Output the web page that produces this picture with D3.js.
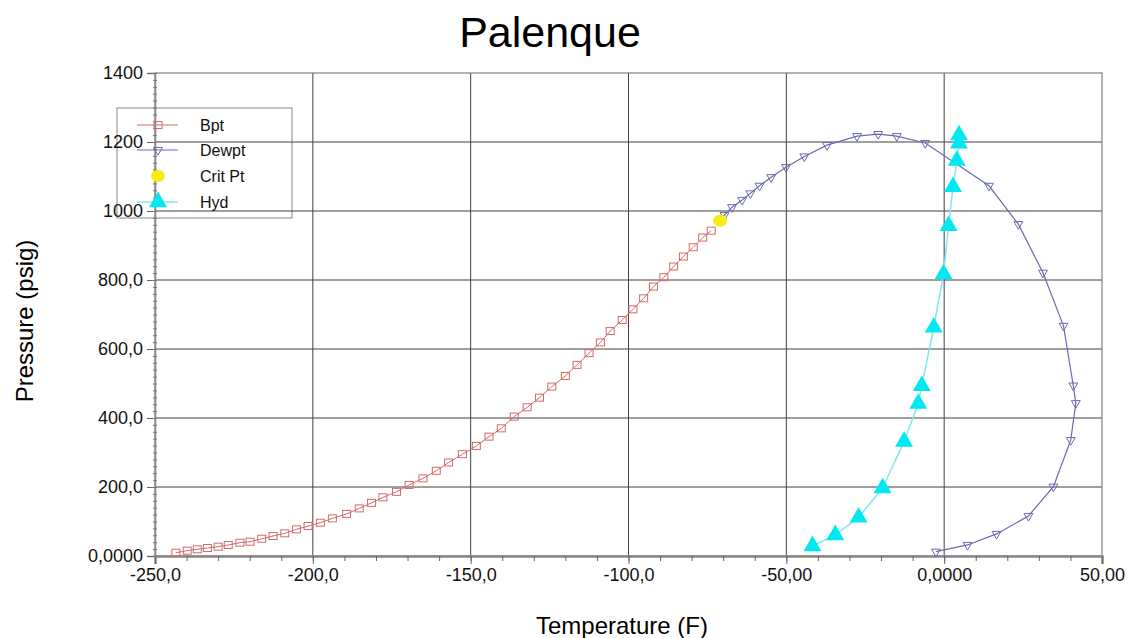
<!DOCTYPE html>
<html>
<head>
<meta charset="utf-8">
<script src="https://cdn.jsdelivr.net/npm/d3@7"></script>
<style>
  html, body { margin: 0; padding: 0; background: #fff; }
  svg { display: block; font-family: "Liberation Sans", Arial, sans-serif; }
</style>
</head>
<body>
<svg id="chart" width="1128" height="638"></svg>
<script>
// ---- data ----
const bptT = [-243.4,-239.8,-236.6,-233.4,-230.0,-226.8,-223.1,-219.9,-216.2,-212.6,-208.9,-205.2,-201.5,-197.6,-193.8,-189.3,-185.3,-181.4,-177.8,-173.5,-169.5,-165.1,-160.9,-157.0,-152.6,-148.2,-144.2,-140.3,-136.2,-132.1,-128.2,-124.3,-120.0,-116.3,-112.5,-108.9,-105.8,-102.0,-98.6,-95.2,-92.1,-88.8,-85.7,-82.6,-79.5,-76.5,-73.8];
const bptP = [9.6,15.4,19.4,23.2,27,31.9,38.6,41.4,50,58,65.7,77.3,86.9,96.5,109,122,138,154,170,186,206,225,247,271,295,319,346,370,404,431,459,491,522,554,588,619,652,684,715,747,781,808,839,868,895,923,943];

const dewT = [-71.0,-69.6,-67.2,-64.0,-61.4,-58.5,-54.8,-50.1,-44.3,-37.1,-27.6,-20.9,-15.0,-6.0,14.2,23.5,31.3,37.8,40.9,41.7,40.1,34.6,26.7,16.6,7.4,-2.6];
const dewP = [972,988,1011,1032,1051,1073,1098,1127,1158,1191,1217,1223,1217,1197,1073,962,821,667,494,443,336,201,116,64,32,12.5];
const dewMarked = [false,true,true,true,true,true,true,true,true,true,true,true,true,true,true,true,true,true,true,true,true,true,true,true,true,true];

const critT = [-71.0];
const critP = [972];

const hydT = [-41.7,-34.5,-27.1,-19.5,-12.7,-8.2,-7.1,-3.3,-0.2,1.4,2.8,4.0,4.7,4.7];
const hydP = [29,61,112,197,332,442,493,663,817,957,1070,1146,1196,1220];

const xTicks = [-250,-200,-150,-100,-50,0,50];
const xTickLabels = ["-250,0","-200,0","-150,0","-100,0","-50,00","0,0000","50,00"];
const yTicks = [0,200,400,600,800,1000,1200,1400];
const yTickLabels = ["0,0000","200,0","400,0","600,0","800,0","1000","1200","1400"];

const seriesNames = ["Bpt","Dewpt","Crit Pt","Hyd"];

// ---- setup ----
const svg = d3.select("#chart");
const L = 155, R = 1102, T = 73, B = 556;
const x = d3.scaleLinear().domain([-250, 50]).range([L, R]);
const y = d3.scaleLinear().domain([0, 1400]).range([B, T]);

const cBpt = "#d46a6a", cDew = "#6a6ab4", cCrit = "#f5ee10", cHyd = "#00e8f0", cHydLine = "#80e8ec";

// ---- legend (transparent, drawn beneath grid/axes) ----
const lg = svg.append("g");
lg.append("rect").attr("x", 117).attr("y", 108).attr("width", 175).attr("height", 110)
  .attr("fill", "none").attr("stroke", "#888").attr("stroke-width", 1);

// grid
const grid = svg.append("g");
grid.selectAll(".gx").data(xTicks.slice(1, -1)).join("line")
  .attr("x1", d => x(d)).attr("x2", d => x(d)).attr("y1", T).attr("y2", B)
  .attr("stroke", "#404040").attr("stroke-width", 1);
grid.selectAll(".gy").data(yTicks.slice(1, -1)).join("line")
  .attr("x1", L).attr("x2", R).attr("y1", d => y(d)).attr("y2", d => y(d))
  .attr("stroke", "#404040").attr("stroke-width", 1);
// frame
svg.append("rect").attr("x", L).attr("y", T).attr("width", R - L).attr("height", B - T)
  .attr("fill", "none").attr("stroke", "#808080").attr("stroke-width", 1.2);

// axes
const xAxis = d3.axisBottom(x).tickValues(xTicks).tickSize(8).tickPadding(4)
  .tickFormat((d, i) => xTickLabels[i]);
const gx = svg.append("g").attr("transform", `translate(0,${B})`).call(xAxis);
gx.select(".domain").attr("stroke", "#888").attr("stroke-width", 2.5);
gx.selectAll(".tick line").attr("stroke", "#666");
gx.selectAll("text").attr("font-size", 18).attr("fill", "#111")
  .attr("font-family", "Liberation Sans, Arial, sans-serif");
const xMinor = d3.axisBottom(x).tickValues(d3.range(-250, 51, 10)).tickSize(5).tickFormat("");
const gxm = svg.append("g").attr("transform", `translate(0,${B})`).call(xMinor);
gxm.select(".domain").remove();
gxm.selectAll(".tick line").attr("stroke", "#666");

const yAxis = d3.axisLeft(y).tickValues(yTicks).tickSize(8).tickPadding(4)
  .tickFormat((d, i) => yTickLabels[i]);
const gy = svg.append("g").attr("transform", `translate(${L},0)`).call(yAxis);
gy.select(".domain").attr("stroke", "#888").attr("stroke-width", 1.5);
gy.selectAll(".tick line").attr("stroke", "#666");
gy.selectAll("text").attr("font-size", 18).attr("fill", "#111")
  .attr("font-family", "Liberation Sans, Arial, sans-serif");
const yMinor = d3.axisLeft(y).tickValues(d3.range(0, 1401, 20)).tickSize(4).tickFormat("");
const gym = svg.append("g").attr("transform", `translate(${L + 2},0)`).call(yMinor);
gym.select(".domain").remove();
gym.selectAll(".tick line").attr("stroke", "#777");

// ---- series ----
const line = d3.line().x(d => x(d[0])).y(d => y(d[1]));
const bptData = bptT.map((t, i) => [t, bptP[i]]);
const dewData = dewT.map((t, i) => [t, dewP[i]]);
const hydData = hydT.map((t, i) => [t, hydP[i]]);

// Bpt
svg.append("path").datum(bptData).attr("d", line).attr("fill", "none").attr("stroke", cBpt).attr("stroke-width", 1);
svg.append("g").selectAll("rect").data(bptData).join("rect")
  .attr("x", d => x(d[0]) - 4).attr("y", d => y(d[1]) - 3.5).attr("width", 8).attr("height", 7)
  .attr("fill", "none").attr("stroke", cBpt).attr("stroke-width", 1);

// Dewpt
svg.append("path").datum(dewData).attr("d", line).attr("fill", "none").attr("stroke", cDew).attr("stroke-width", 1.2);
const downTri = d3.symbol().type(d3.symbolTriangle).size(34);
svg.append("g").selectAll("path").data(dewData.filter((d, i) => dewMarked[i])).join("path")
  .attr("d", downTri)
  .attr("transform", d => `translate(${x(d[0])},${y(d[1])}) rotate(180)`)
  .attr("fill", "none").attr("stroke", cDew).attr("stroke-width", 1);

// Hyd
svg.append("path").datum(hydData).attr("d", line).attr("fill", "none").attr("stroke", cHydLine).attr("stroke-width", 1.5);
const upTri = d3.symbol().type(d3.symbolTriangle).size(140);
svg.append("g").selectAll("path").data(hydData).join("path")
  .attr("d", upTri)
  .attr("transform", d => `translate(${x(d[0])},${y(d[1])})`)
  .attr("fill", cHyd);

// Crit pt
svg.append("g").selectAll("ellipse").data(critT.map((t, i) => [t, critP[i]])).join("ellipse")
  .attr("cx", d => x(d[0])).attr("cy", d => y(d[1])).attr("rx", 7).attr("ry", 6)
  .attr("fill", cCrit);

// ---- legend entries ----
const lge = svg.append("g");
const ly = [125, 150, 176, 202];
seriesNames.forEach((name, i) => {
  const yy = ly[i], mx = 158;
  if (i === 0) {
    lge.append("line").attr("x1", 137).attr("x2", 178).attr("y1", yy).attr("y2", yy).attr("stroke", cBpt);
    lge.append("rect").attr("x", mx - 4).attr("y", yy - 3.5).attr("width", 8).attr("height", 7).attr("fill", "none").attr("stroke", cBpt);
  } else if (i === 1) {
    lge.append("line").attr("x1", 137).attr("x2", 178).attr("y1", yy).attr("y2", yy).attr("stroke", cDew);
    lge.append("path").attr("d", downTri).attr("transform", `translate(${mx},${yy}) rotate(180)`).attr("fill", "none").attr("stroke", cDew);
  } else if (i === 2) {
    lge.append("ellipse").attr("cx", mx).attr("cy", yy).attr("rx", 7).attr("ry", 6).attr("fill", cCrit);
  } else {
    lge.append("line").attr("x1", 137).attr("x2", 178).attr("y1", yy).attr("y2", yy).attr("stroke", cHydLine).attr("stroke-width", 1.5);
    lge.append("path").attr("d", upTri).attr("transform", `translate(${mx},${yy})`).attr("fill", cHyd);
  }
  lge.append("text").attr("x", 200).attr("y", yy).attr("dy", "0.35em")
    .attr("font-size", 16).attr("fill", "#111").text(name);
});

// ---- titles ----
svg.append("text").attr("x", 550).attr("y", 47).attr("text-anchor", "middle")
  .attr("font-size", 43).attr("fill", "#000").text("Palenque");
svg.append("text").attr("x", 622).attr("y", 634).attr("text-anchor", "middle")
  .attr("font-size", 24).attr("fill", "#000").text("Temperature (F)");
svg.append("text").attr("transform", "translate(33,321) rotate(-90)").attr("text-anchor", "middle")
  .attr("font-size", 24).attr("fill", "#000").text("Pressure (psig)");
</script>
</body>
</html>
